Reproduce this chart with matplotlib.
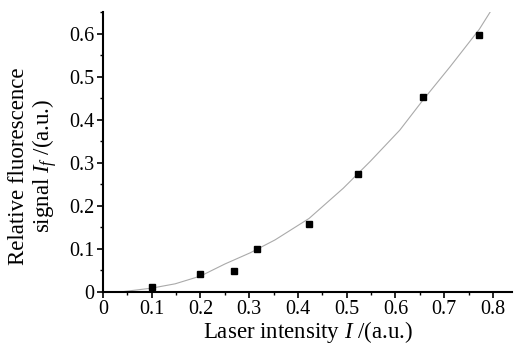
import matplotlib
matplotlib.use("Agg")
import matplotlib.pyplot as plt
from matplotlib.ticker import MultipleLocator, FuncFormatter

plt.rcParams['font.family'] = ['Liberation Serif', 'DejaVu Serif']
plt.rcParams['mathtext.fontset'] = 'custom'
plt.rcParams['mathtext.rm'] = 'Liberation Serif'
plt.rcParams['mathtext.it'] = 'Liberation Serif:italic'

# measured points
intensity = [0.1, 0.2, 0.269, 0.315, 0.423, 0.523, 0.656, 0.772]
signal = [0.011, 0.041, 0.049, 0.099, 0.159, 0.275, 0.454, 0.598]

# fitted curve
fit_x = [0.035, 0.10, 0.148, 0.20, 0.25, 0.302, 0.353, 0.423, 0.493,
         0.548, 0.609, 0.656, 0.712, 0.772, 0.797]
fit_y = [0.0, 0.009, 0.019, 0.037, 0.065, 0.091, 0.121, 0.171, 0.241,
         0.303, 0.376, 0.445, 0.523, 0.61, 0.655]

fig = plt.figure(figsize=(5.16, 3.47), dpi=100)
ax = fig.add_axes([0.1996, 0.1585, 0.7934, 0.8065])

ax.plot(fit_x, fit_y, color='#aaaaaa', lw=0.8)
ax.plot(intensity, signal, 's', color='black', ms=5, mec='black')

ax.set_xlim(0, 0.84)
ax.set_ylim(0, 0.65)
ax.xaxis.set_major_locator(MultipleLocator(0.1))
ax.xaxis.set_minor_locator(MultipleLocator(0.05))
ax.yaxis.set_major_locator(MultipleLocator(0.1))
ax.yaxis.set_minor_locator(MultipleLocator(0.05))
fmt = FuncFormatter(lambda v, p: '0' if abs(v) < 1e-9 else f'{v:.1f}')
ax.xaxis.set_major_formatter(fmt)
ax.yaxis.set_major_formatter(fmt)

for side in ['top', 'right']:
    ax.spines[side].set_visible(False)
for side in ['left', 'bottom']:
    ax.spines[side].set_linewidth(1.5)

ax.tick_params(which='major', direction='out', length=4, width=1.2,
               labelsize=14.5, pad=2)
ax.tick_params(which='minor', direction='out', length=2.5, width=1.0)

ax.set_xlabel('Laser intensity $I$ /(a.u.)', fontsize=16.5, labelpad=0)
ax.set_ylabel('Relative fluorescence\nsignal $I_f$ /(a.u.)', fontsize=16.5,
              linespacing=1.05)
ax.yaxis.set_label_coords(-0.108, 0.45)

fig.savefig('out.png', dpi=100)
